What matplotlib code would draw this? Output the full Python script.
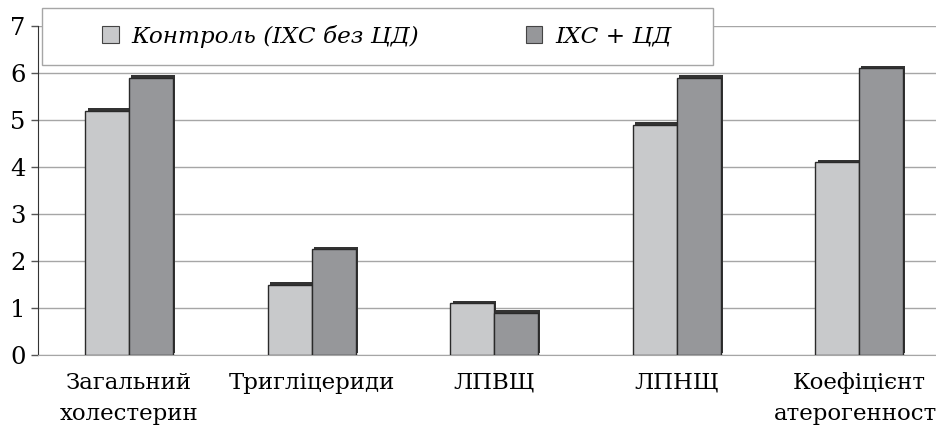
import matplotlib
matplotlib.use("Agg")
import matplotlib.pyplot as plt
import matplotlib.patheffects as pe
from matplotlib.patches import Rectangle
import numpy as np

plt.rcParams['font.family'] = ['DejaVu Serif']

# показники ліпідного спектру
categories = ["Загальний\nхолестерин", "Тригліцериди", "ЛПВЩ", "ЛПНЩ",
              "Коефіцієнт\nатерогенності"]
control = [5.2, 1.5, 1.1, 4.9, 4.1]
ihd_dm = [5.9, 2.25, 0.9, 5.9, 6.1]
series_names = ["Контроль (ІХС без ЦД)", "ІХС + ЦД"]

W, H = 936, 430
fig = plt.figure(figsize=(W / 100, H / 100), dpi=100)
ax = fig.add_axes([38 / W, 1 - 355 / H, 912.5 / W, 329 / H])

x = np.arange(len(categories))
bw = 0.24
shadow = [pe.SimplePatchShadow(offset=(1.6, 1.6), shadow_rgbFace='#333333', alpha=1.0),
          pe.Normal()]
b1 = ax.bar(x - bw / 2, control, bw, color='#c8c9cb', edgecolor='#2a2a2a',
            linewidth=1, label=series_names[0], zorder=3)
b2 = ax.bar(x + bw / 2, ihd_dm, bw, color='#96979a', edgecolor='#2a2a2a',
            linewidth=1, label=series_names[1], zorder=3)
for b in list(b1) + list(b2):
    b.set_path_effects(shadow)

ax.set_xlim(-0.5, len(categories) - 0.5)
ax.set_ylim(0, 7)
ax.set_yticks(range(8))
ax.yaxis.grid(True, color='#a6a6a6', linewidth=1)
ax.set_axisbelow(True)
ax.tick_params(axis='y', length=5, width=1, color='#555555', labelsize=17.5, pad=4)
ax.tick_params(axis='x', length=0, labelsize=16.5, pad=12)
ax.set_xticks(x)
ax.set_xticklabels(categories, linespacing=1.55)
for s in ['top', 'right']:
    ax.spines[s].set_visible(False)
ax.spines['left'].set_color('#333333')
ax.spines['bottom'].set_color('#a6a6a6')

# рамка легенди
fig.patches.append(Rectangle((42 / W, 1 - 65 / H), 671 / W, 57 / H,
                             transform=fig.transFigure, facecolor='white',
                             edgecolor='#a6a6a6', linewidth=1, zorder=5))
leg = fig.legend(handles=[b1, b2], labels=series_names, ncol=2,
                 loc='center left', bbox_to_anchor=(81 / W, 1 - 36 / H),
                 frameon=False, handlelength=0.72, handleheight=0.72,
                 handletextpad=0.55, columnspacing=4.6,
                 prop={'size': 16.7, 'style': 'italic'})
leg.set_zorder(6)
for h in leg.legend_handles:
    h.set_edgecolor('#444444')
    h.set_linewidth(0.8)
    h.set_path_effects([])

fig.savefig("out.png", dpi=100)
